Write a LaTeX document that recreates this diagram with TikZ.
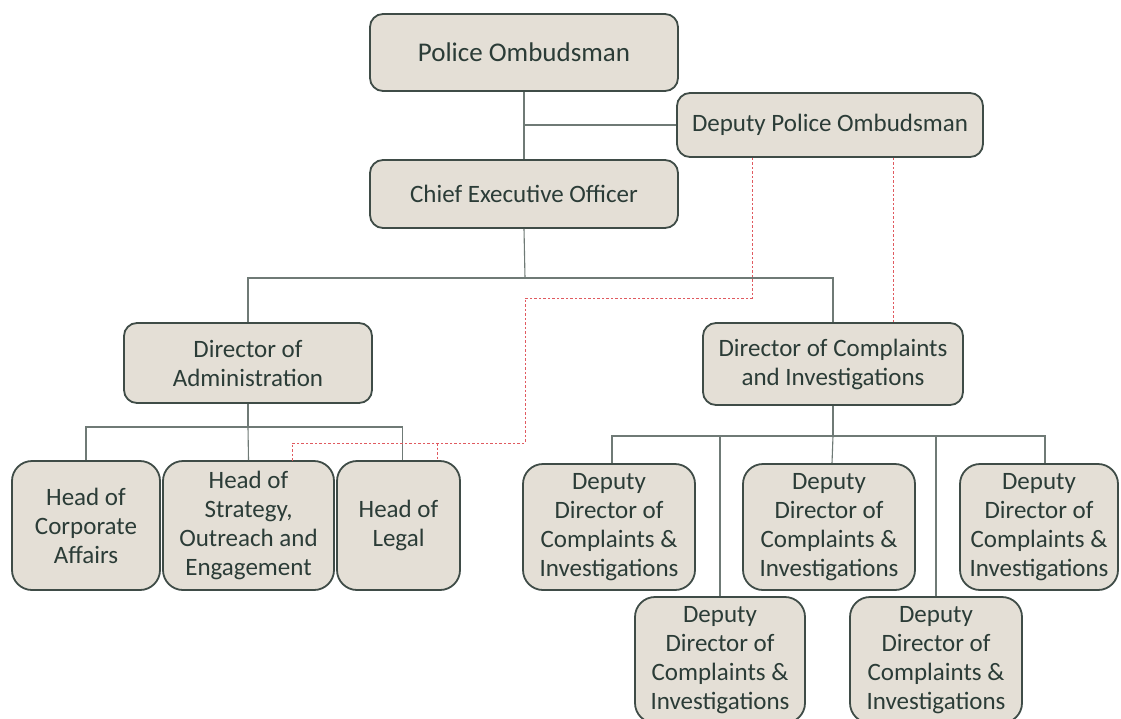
\documentclass[tikz,border=0pt]{standalone}
\usepackage{fontspec}
\setmainfont{Carlito}
\definecolor{boxfill}{HTML}{E4DFD6}
\definecolor{boxline}{HTML}{3F4C47}
\definecolor{boxtext}{HTML}{2B3C37}
\definecolor{linkgray}{HTML}{6F7A76}
\definecolor{linkred}{HTML}{E05A60}
\begin{document}
\begin{tikzpicture}[x=1pt,y=-1pt,
  unit/.style={draw=boxline, line width=1.8pt, fill=boxfill, text=boxtext,
    rounded corners=13pt, inner sep=0pt, align=center,
    font=\fontsize{25}{29}\selectfont},
  staff/.style={unit, rounded corners=20pt},
  link/.style={draw=linkgray, line width=1.1pt},
  deputy link/.style={draw=linkred, line width=1pt, dash pattern=on 2.5pt off 2pt}]
\useasboundingbox (0,0) rectangle (1121,718);
\fill[white] (0,0) rectangle (1121,718);

% junctions of the reporting lines
\coordinate (topbus) at (525,278);
\coordinate (adbus) at (248,427);
\coordinate (cibus) at (833,436);

% boxes
\node[unit, minimum width=308pt, minimum height=77pt, font=\fontsize{27}{31}\selectfont]
  (po) at (524,52.5) {Police Ombudsman};
\node[unit, minimum width=306pt, minimum height=64pt] (dpo) at (830,125) {Deputy Police Ombudsman};
\node[unit, minimum width=308pt, minimum height=68pt] (ceo) at (524,194) {Chief Executive Officer};
\node[unit, minimum width=248pt, minimum height=80pt] (da) at (248,363) {Director of\\Administration};
\node[unit, minimum width=260pt, minimum height=82pt] (dci) at (833,364) {Director of Complaints\\and Investigations};

\node[staff, minimum width=148pt, minimum height=129pt] (hca) at (86,525.5) {Head of\\Corporate\\Affairs};
\node[staff, minimum width=171pt, minimum height=129pt] (hs) at (248.5,525.5) {Head of\\Strategy,\\Outreach and\\Engagement};
\node[staff, minimum width=123pt, minimum height=129pt] (hl) at (398.5,525.5) {Head of\\Legal};

\node[staff, minimum width=172pt, minimum height=126pt] (dd1) at (609,527) {Deputy\\Director of\\Complaints \&\\Investigations};
\node[staff, minimum width=172pt, minimum height=126pt] (dd2) at (829,527) {Deputy\\Director of\\Complaints \&\\Investigations};
\node[staff, minimum width=158pt, minimum height=126pt] (dd3) at (1039,527) {Deputy\\Director of\\Complaints \&\\Investigations};
\node[staff, minimum width=170pt, minimum height=126pt] (dd4) at (720,660) {Deputy\\Director of\\Complaints \&\\Investigations};
\node[staff, minimum width=172pt, minimum height=126pt] (dd5) at (936,660) {Deputy\\Director of\\Complaints \&\\Investigations};

% solid reporting lines
\draw[link] (po.south) -- (ceo.north);
\draw[link] (dpo.west) -- (dpo.west -| po.south);
\draw[link] (ceo.south) -- (topbus);
\draw[link] (da.north) -- (da.north |- topbus) -- (dci.north |- topbus) -- (dci.north);

\draw[link] (da.south) -- (adbus);
\draw[link] (hca.north) -- (hca.north |- adbus) -- ([xshift=4pt]hl.north |- adbus) -- ([xshift=4pt]hl.north);
\draw[link] (adbus) -- (hs.north);

\draw[link] (dci.south) -- (cibus);
\draw[link] ([xshift=3pt]dd1.north) -- ([xshift=3pt]dd1.north |- cibus) -- ([xshift=6pt]dd3.north |- cibus) -- ([xshift=6pt]dd3.north);
\draw[link] (cibus) -- ([xshift=3pt]dd2.north);
\draw[link] (dd4.north) -- (dd4.north |- cibus);
\draw[link] (dd5.north) -- (dd5.north |- cibus);

% dashed lines from the deputy ombudsman
\coordinate (dA) at ([xshift=-78pt]dpo.south);
\coordinate (dB) at ([xshift=63pt]dpo.south);
\coordinate (legalbus) at (437,443);
\draw[deputy link] (dA) -- (dA |- 0,298) -- (525,298) -- (525,443) -- (292,443) -- (292,462);
\draw[deputy link] (legalbus) -- (legalbus |- hl.north);
\draw[deputy link] (dB) -- (dB |- dci.north);
\end{tikzpicture}
\end{document}
